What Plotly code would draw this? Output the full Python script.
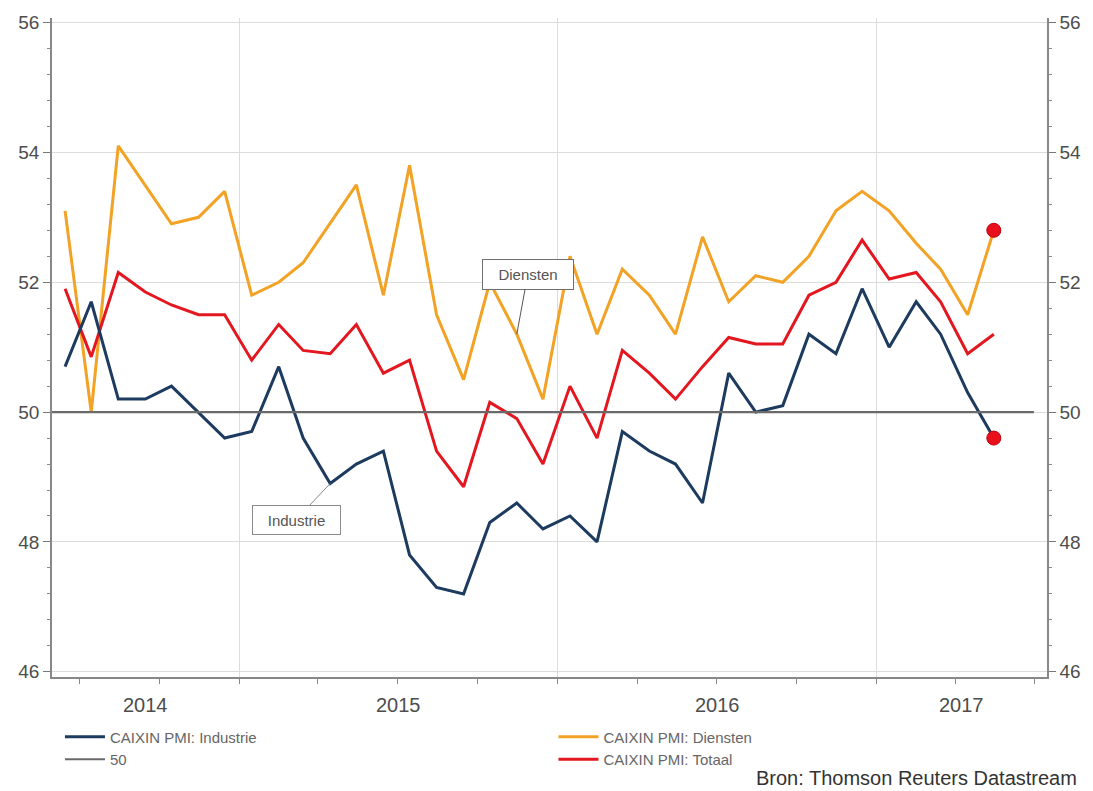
import pandas as pd
import plotly.graph_objects as go

# ---------------- data ----------------
months = pd.date_range("2014-06-01", "2017-05-01", freq="MS") + pd.Timedelta(days=14)

industrie = [50.7, 51.7, 50.2, 50.2, 50.4, 50.0, 49.6,
             49.7, 50.7, 49.6, 48.9, 49.2, 49.4, 47.8, 47.3, 47.2, 48.3, 48.6, 48.2,
             48.4, 48.0, 49.7, 49.4, 49.2, 48.6, 50.6, 50.0, 50.1, 51.2, 50.9, 51.9,
             51.0, 51.7, 51.2, 50.3, 49.6]
diensten = [53.1, 50.0, 54.1, 53.5, 52.9, 53.0, 53.4,
            51.8, 52.0, 52.3, 52.9, 53.5, 51.8, 53.8, 51.5, 50.5, 52.0, 51.2, 50.2,
            52.4, 51.2, 52.2, 51.8, 51.2, 52.7, 51.7, 52.1, 52.0, 52.4, 53.1, 53.4,
            53.1, 52.6, 52.2, 51.5, 52.8]
totaal = [51.9, 50.85, 52.15, 51.85, 51.65, 51.5, 51.5,
          50.8, 51.35, 50.95, 50.9, 51.35, 50.6, 50.8, 49.4, 48.85, 50.15, 49.9, 49.2,
          50.4, 49.6, 50.95, 50.6, 50.2, 50.7, 51.15, 51.05, 51.05, 51.8, 52.0, 52.65,
          52.05, 52.15, 51.7, 50.9, 51.2]
line50_x = ["2014-05-31", "2017-06-30"]
line50_y = [50, 50]

year_labels = ["2014", "2015", "2016", "2017"]
year_starts = ["2015-01-01", "2016-01-01", "2017-01-01"]
quarter_ticks = pd.date_range("2014-07-01", "2017-07-01", freq="QS")

x_range = ["2014-05-31", "2017-07-15"]
y_range = [45.92, 56.07]

# ---------------- styles ----------------
C_IND = "#1d3a5f"
C_DIE = "#f2a224"
C_TOT = "#e3171f"
C_50 = "#6a6a6a"
FONT = "Liberation Sans, Arial, sans-serif"
TICK_COLOR = "#4d4d4d"

fig = go.Figure()

fig.add_trace(go.Scatter(x=line50_x, y=line50_y, mode="lines", name="50",
                         line=dict(color=C_50, width=2.2), yaxis="y2",
                         legend="legend", legendrank=2))
fig.add_trace(go.Scatter(x=months, y=diensten, mode="lines", name="CAIXIN PMI: Diensten",
                         line=dict(color=C_DIE, width=3), legend="legend2", legendrank=1))
fig.add_trace(go.Scatter(x=months, y=totaal, mode="lines", name="CAIXIN PMI: Totaal",
                         line=dict(color=C_TOT, width=3), legend="legend2", legendrank=2))
fig.add_trace(go.Scatter(x=months, y=industrie, mode="lines", name="CAIXIN PMI: Industrie",
                         line=dict(color=C_IND, width=3), legend="legend", legendrank=1))
fig.add_trace(go.Scatter(x=[months[-1], months[-1]], y=[diensten[-1], industrie[-1]],
                         mode="markers", showlegend=False,
                         marker=dict(color="#e8101a", size=14,
                                     line=dict(color="#c00010", width=1))))

# year labels centred on the visible part of each year
bounds = [pd.Timestamp(x_range[0])] + [pd.Timestamp(d) for d in year_starts] + [pd.Timestamp(x_range[1])]
annotations = []
for i, lab in enumerate(year_labels):
    mid = bounds[i] + (bounds[i + 1] - bounds[i]) / 2
    annotations.append(dict(x=mid, y=-0.043, xref="x", yref="paper", text=lab,
                            showarrow=False, yanchor="middle",
                            font=dict(family=FONT, size=20, color=TICK_COLOR)))

# callout boxes
annotations.append(dict(x=months[17], y=diensten[17], xref="x", yref="y", text="Diensten",
                        showarrow=True, arrowhead=0, arrowwidth=1, arrowcolor="#555555",
                        ax=11, ay=-60, width=80, height=19, bgcolor="white",
                        bordercolor="#6f6f6f", borderwidth=1, borderpad=5,
                        font=dict(family=FONT, size=15, color="#555555")))
annotations.append(dict(x=months[10], y=industrie[10], xref="x", yref="y", text="Industrie",
                        showarrow=True, arrowhead=0, arrowwidth=1, arrowcolor="#888888",
                        ax=-34, ay=36, width=77, height=18, bgcolor="white",
                        bordercolor="#8a8a8a", borderwidth=1, borderpad=5,
                        font=dict(family=FONT, size=15, color="#555555")))
annotations.append(dict(x=1.032, y=-0.154, xref="paper", yref="paper",
                        text="Bron: Thomson Reuters Datastream", showarrow=False,
                        xanchor="right", yanchor="middle",
                        font=dict(family=FONT, size=20, color="#333333")))

yaxis_common = dict(range=y_range, tickmode="linear", tick0=46, dtick=2,
                    ticks="outside", ticklen=7, tickcolor="#777777", tickwidth=1,
                    showline=True, linecolor="#888888", linewidth=1.5,
                    zeroline=False,
                    tickfont=dict(family=FONT, size=19, color=TICK_COLOR),
                    minor=dict(tickmode="linear", tick0=46, dtick=0.4, ticks="outside",
                               ticklen=3, tickcolor="#888888", showgrid=False))

fig.update_layout(
    width=1093, height=791,
    margin=dict(l=52, r=42, t=18, b=114),
    paper_bgcolor="white", plot_bgcolor="white",
    font=dict(family=FONT, color="#555555"),
    xaxis=dict(type="date", range=x_range, tickmode="array", tickvals=year_starts,
               ticktext=["", "", ""], ticks="outside", ticklen=6, tickcolor="#777777",
               showgrid=True, gridcolor="#dcdcdc", gridwidth=1,
               showline=True, linecolor="#888888", linewidth=1.5, zeroline=False,
               minor=dict(tickmode="array", tickvals=quarter_ticks, ticks="outside",
                          ticklen=5, tickcolor="#888888", showgrid=False)),
    yaxis=dict(**yaxis_common, showgrid=True, gridcolor="#dcdcdc", gridwidth=1, side="left"),
    yaxis2=dict(**yaxis_common, showgrid=False, overlaying="y", side="right"),
    legend=dict(x=0.008, y=-0.066, xanchor="left", yanchor="top", orientation="v",
                font=dict(family=FONT, size=15, color="#666666"), bgcolor="rgba(0,0,0,0)",
                tracegroupgap=0, itemwidth=40),
    legend2=dict(x=0.504, y=-0.066, xanchor="left", yanchor="top", orientation="v",
                 font=dict(family=FONT, size=15, color="#666666"), bgcolor="rgba(0,0,0,0)",
                 tracegroupgap=0, itemwidth=40),
    annotations=annotations,
    showlegend=True,
)

fig.write_html("out.html")
